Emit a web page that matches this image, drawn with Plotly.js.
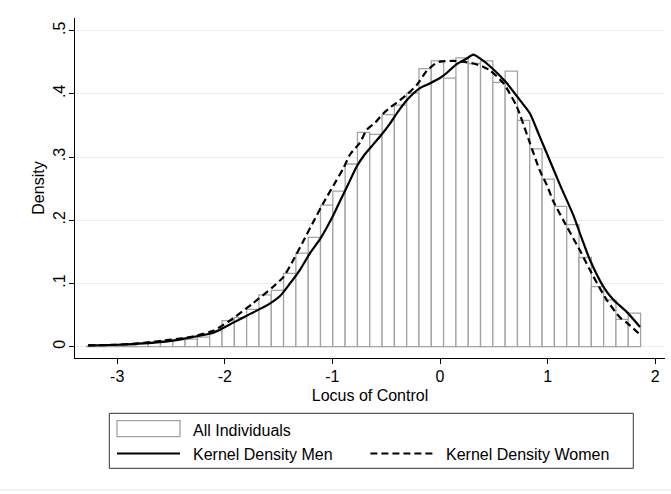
<!DOCTYPE html>
<html>
<head>
<meta charset="utf-8">
<script src="https://cdn.plot.ly/plotly-3.0.1.min.js"></script>
<style>
html,body{margin:0;padding:0;background:#fff;}
#chart{width:671px;height:494px;}
</style>
</head>
<body>
<div id="chart"></div>
<script>
// Histogram (All Individuals): 45 equal-width bins
const binStart = -3.284;
const binWidth = 0.1144;
const histDensity = [0.001,0.002,0.002,0.003,0.005,0.007,0.009,0.011,0.012,0.015,
  0.025,0.041,0.046,0.059,0.082,0.089,0.116,0.148,0.173,0.224,
  0.246,0.289,0.339,0.336,0.367,0.382,0.401,0.440,0.452,0.425,
  0.457,0.448,0.452,0.418,0.436,0.358,0.313,0.265,0.222,0.193,
  0.141,0.095,0.074,0.043,0.053];

// Kernel density, men (solid)
const menX = [-3.27,-3.0,-2.75,-2.5,-2.3,-2.107,-1.921,-1.75,-1.6,-1.487,-1.394,-1.3,-1.208,-1.115,-1.0,-0.93,-0.85,-0.774,-0.70,-0.620,-0.55,-0.465,-0.39,-0.309,-0.186,-0.1,0.0,0.062,0.155,0.25,0.310,0.372,0.495,0.620,0.743,0.836,0.92,0.992,1.115,1.239,1.320,1.394,1.518,1.611,1.735,1.859];
const menY = [0.002,0.003,0.005,0.009,0.015,0.022,0.038,0.053,0.066,0.080,0.100,0.122,0.148,0.170,0.205,0.230,0.258,0.285,0.304,0.320,0.334,0.353,0.372,0.390,0.409,0.416,0.425,0.433,0.447,0.456,0.462,0.456,0.439,0.417,0.390,0.369,0.335,0.306,0.256,0.208,0.170,0.137,0.095,0.074,0.055,0.031];

// Kernel density, women (dashed)
const womenX = [-3.27,-3.0,-2.75,-2.5,-2.3,-2.107,-1.921,-1.735,-1.549,-1.456,-1.363,-1.270,-1.185,-1.085,-0.99,-0.899,-0.836,-0.743,-0.681,-0.60,-0.527,-0.45,-0.372,-0.30,-0.217,-0.124,-0.05,0.0,0.124,0.20,0.310,0.40,0.465,0.588,0.713,0.836,0.929,0.992,1.053,1.146,1.301,1.425,1.549,1.673,1.735,1.859];
const womenY = [0.002,0.003,0.006,0.011,0.016,0.025,0.045,0.069,0.095,0.110,0.137,0.167,0.195,0.227,0.255,0.282,0.304,0.323,0.343,0.355,0.369,0.380,0.390,0.400,0.414,0.436,0.447,0.451,0.452,0.451,0.448,0.443,0.437,0.417,0.380,0.322,0.278,0.256,0.230,0.200,0.152,0.111,0.074,0.046,0.038,0.019];

const xTicks = [-3,-2,-1,0,1,2];
const yTicks = [0,0.1,0.2,0.3,0.4,0.5];
const yTickText = ["0",".1",".2",".3",".4",".5"];

const legendLabels = ["All Individuals","Kernel Density Men","Kernel Density Women"];

const binCenters = histDensity.map((d,i)=>binStart + binWidth*(i+0.5));

const W=671,H=494,L=75,R=6,T=18,B=136;
const pw=W-L-R, ph=H-T-B;
const px = x => (x-L)/pw;
const py = y => (H-B-y)/ph;

const FONT = "Liberation Sans, Arial, Helvetica, sans-serif";

const traces = [
  {type:'bar', x:binCenters, y:histDensity, width:binWidth,
   marker:{color:'rgba(255,255,255,1)', line:{color:'#a3a3a3', width:1.3}},
   showlegend:false, hoverinfo:'skip'},
  {type:'scatter', mode:'lines', x:menX, y:menY, line:{color:'#000', width:2.2, shape:'spline', smoothing:0.6},
   showlegend:false, hoverinfo:'skip'},
  {type:'scatter', mode:'lines', x:womenX, y:womenY, line:{color:'#000', width:2.2, dash:'7px,4px', shape:'spline', smoothing:0.6},
   showlegend:false, hoverinfo:'skip'}
];

const shapes = [
  // legend frame
  {type:'rect', xref:'paper', yref:'paper', x0:px(109.3), x1:px(633.3), y0:py(413.3), y1:py(468.3),
   line:{color:'#333', width:1}, fillcolor:'rgba(0,0,0,0)'},
  // swatch: histogram
  {type:'rect', xref:'paper', yref:'paper', x0:px(117), x1:px(180), y0:py(420.7), y1:py(436.7),
   line:{color:'#a3a3a3', width:1.3}, fillcolor:'#fff'},
  // swatch: men
  {type:'line', xref:'paper', yref:'paper', x0:px(117), x1:px(180), y0:py(453.5), y1:py(453.5),
   line:{color:'#000', width:2.2}},
  // swatch: women
  {type:'line', xref:'paper', yref:'paper', x0:px(370.4), x1:px(433.7), y0:py(453.5), y1:py(453.5),
   line:{color:'#000', width:2.2, dash:'7px,4px'}},
  // faint outer bottom line
  {type:'line', xref:'paper', yref:'paper', x0:px(0), x1:px(671), y0:py(490), y1:py(490),
   line:{color:'#e6e6e6', width:1}}
];

const annotations = [
  {xref:'paper', yref:'paper', x:px(190.7), y:py(431), xanchor:'left', yanchor:'middle', showarrow:false,
   text:legendLabels[0], font:{family:FONT, size:16, color:'#000'}},
  {xref:'paper', yref:'paper', x:px(190.7), y:py(454.3), xanchor:'left', yanchor:'middle', showarrow:false,
   text:legendLabels[1], font:{family:FONT, size:16, color:'#000'}},
  {xref:'paper', yref:'paper', x:px(444.4), y:py(454.3), xanchor:'left', yanchor:'middle', showarrow:false,
   text:legendLabels[2], font:{family:FONT, size:16, color:'#000'}}
];

const layout = {
  width:W, height:H,
  margin:{l:L, r:R, t:T, b:B, pad:0},
  paper_bgcolor:'#fff', plot_bgcolor:'#fff',
  font:{family:FONT, size:16, color:'#000'},
  bargap:0,
  showlegend:false,
  xaxis:{range:[-3.392,2.091], tickvals:xTicks, ticktext:xTicks.map(String),
    showline:true, linecolor:'#000', linewidth:1, ticks:'outside', ticklen:5, tickcolor:'#000',
    showgrid:false, zeroline:false, tickfont:{size:16}, ticklabelstandoff:-1,
    title:{text:'Locus of Control', font:{size:16}, standoff:5}},
  yaxis:{range:[-0.018,0.52], tickvals:yTicks, ticktext:yTickText, tickangle:-90,
    showline:true, linecolor:'#000', linewidth:1, ticks:'outside', ticklen:5, tickcolor:'#000',
    showgrid:true, gridcolor:'#e5eff0', gridwidth:1, zeroline:false, tickfont:{size:16}, ticklabelstandoff:-2,
    title:{text:'Density', font:{size:16}, standoff:1}},
  shapes:shapes,
  annotations:annotations
};

Plotly.newPlot('chart', traces, layout, {staticPlot:true, displayModeBar:false});
</script>
</body>
</html>
